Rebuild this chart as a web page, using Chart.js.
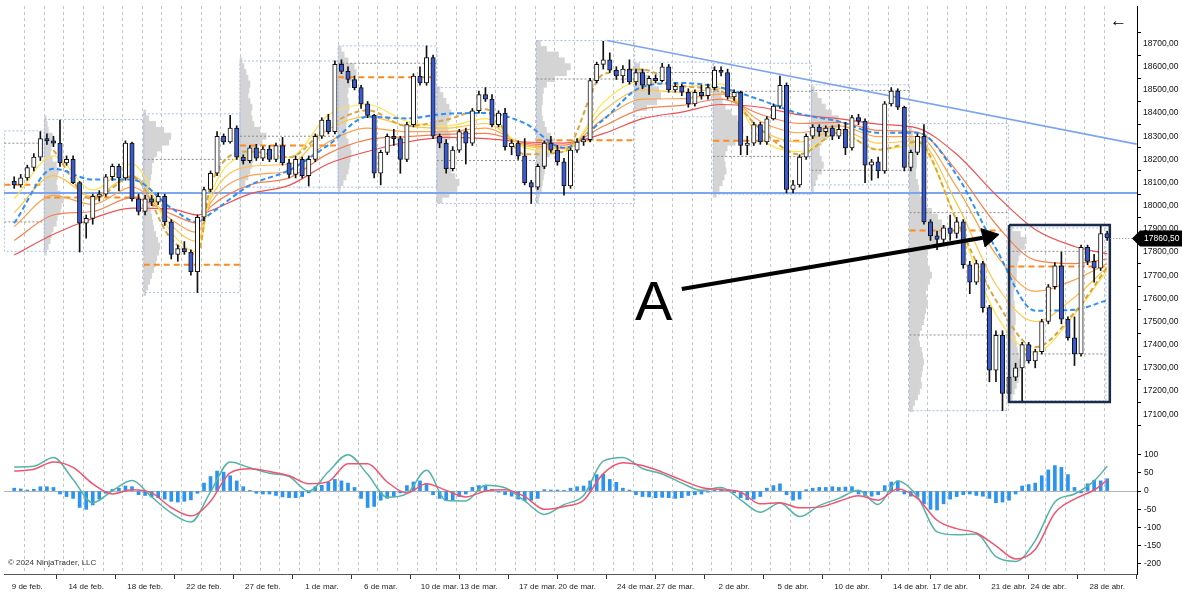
<!DOCTYPE html>
<html lang="es">
<head>
<meta charset="utf-8">
<title>Velas, cinta de medias, perfil de volumen y MACD</title>
<script src="https://cdn.jsdelivr.net/npm/chart.js@4.4.1/dist/chart.umd.min.js"></script>
<style>
  html, body { margin: 0; padding: 0; background: #fff; }
  #wrap { position: relative; width: 1182px; height: 593px; overflow: hidden; font-family: "Liberation Sans", Arial, sans-serif; }
  #mainCanvas { position: absolute; left: 0; top: 0; }
  #macdCanvas { position: absolute; left: 0; top: 442px; }
  .note { position: absolute; color: #000; white-space: nowrap; line-height: 1; }
  #copy { left: 8px; top: 559px; font-size: 8px; color: #333; }
  #back { left: 1110px; top: 12px; font-size: 17px; }
  #letterA { left: 635px; top: 273px; font-size: 56px; }
</style>
</head>
<body>
<div id="wrap">
  <canvas id="mainCanvas" width="1182" height="442"></canvas>
  <canvas id="macdCanvas" width="1182" height="151"></canvas>
  <div class="note" id="letterA">A</div>
  <div class="note" id="back">←</div>
  <div class="note" id="copy">© 2024 NinjaTrader, LLC</div>
</div>
<script>
// ---------- DATA ----------
// One candle per slot, three slots per trading session.
const opens = [18105,18090,18120,18165,18210,18290, 18280,18270,18185,18200,18100,17925,
  17945,18040,18050,18125,18170,18120, 18270,18030,17975,18030,18015,18040,
  17930,17790,17815,17800,17715,17950, 18070,18140,18300,18275,18335,18210,
  18195,18250,18205,18245,18200,18260, 18185,18135,18200,18130,18200,18300,
  18370,18320,18610,18580,18545,18510, 18440,18390,18140,18230,18300,18290,
  18200,18350,18560,18530,18640,18300, 18270,18160,18240,18320,18270,18410,
  18480,18460,18350,18400,18255,18270, 18215,18100,18080,18170,18270,18240,
  18190,18085,18240,18275,18285,18540, 18610,18630,18585,18560,18590,18535,
  18575,18520,18550,18540,18600,18500, 18515,18490,18440,18490,18475,18510,
  18585,18575,18470,18490,18260,18270, 18350,18275,18375,18430,18520,18070,
  18090,18210,18300,18340,18320,18335, 18300,18330,18250,18380,18365,18175,
  18190,18150,18440,18495,18425,18165, 18230,18300,17930,17870,17855,17905,
  17880,17930,17745,17670,17750,17560, 17290,17440,17190,17260,17300,17400,
  17330,17370,17500,17650,17740,17510, 17430,17360,17820,17760,17730,17880];
const highs = [18125,18135,18175,18225,18320,18310, 18300,18370,18215,18215,18105,17960,
  18050,18065,18135,18180,18180,18280, 18275,18050,18045,18045,18055,18050,
  17940,17830,17845,17810,17960,18080, 18150,18320,18310,18390,18345,18220,
  18260,18265,18255,18260,18270,18295, 18200,18215,18210,18215,18310,18380,
  18395,18625,18630,18600,18560,18520, 18450,18395,18240,18310,18330,18300,
  18360,18570,18600,18690,18650,18310, 18285,18255,18330,18335,18420,18495,
  18510,18480,18410,18420,18285,18280, 18290,18110,18180,18280,18300,18260,
  18205,18250,18290,18300,18550,18620, 18710,18660,18600,18605,18630,18590,
  18590,18560,18565,18615,18610,18530, 18525,18505,18500,18520,18525,18600,
  18600,18590,18500,18495,18300,18360, 18360,18385,18440,18560,18530,18110,
  18220,18310,18350,18350,18345,18345, 18350,18360,18390,18395,18375,18200,
  18210,18450,18510,18505,18430,18240, 18310,18350,17940,17890,17915,17960,
  17950,17940,17760,17765,17760,17570, 17460,17460,17290,17320,17410,17410,
  17380,17510,17660,17755,17800,17520, 17520,17830,17830,17790,17915,17890];
const lows = [18075,18080,18110,18150,18195,18265, 18255,18170,18175,18095,17800,17860,
  17920,18020,18040,18110,18065,18110, 18020,17960,17960,18000,18005,17915,
  17770,17760,17790,17700,17625,17935, 18060,18130,18265,18270,18200,18180,
  18185,18195,18195,18190,18190,18175, 18120,18120,18120,18085,18190,18290,
  18310,18310,18570,18530,18500,18420, 18380,18120,18090,18220,18260,18140,
  18190,18340,18520,18520,18290,18250, 18140,18150,18230,18180,18260,18400,
  18450,18340,18340,18240,18220,18200, 18090,18010,18070,18160,18230,18175,
  18045,18075,18230,18260,18275,18530, 18590,18575,18545,18530,18525,18520,
  18505,18480,18530,18535,18490,18490, 18475,18425,18430,18460,18460,18500,
  18560,18460,18455,18220,18220,18260, 18265,18265,18370,18420,18055,18055,
  18080,18200,18290,18300,18300,18285, 18290,18220,18240,18350,18100,18110,
  18120,18140,18430,18415,18150,18150, 18220,17920,17850,17810,17840,17850,
  17860,17730,17620,17660,17540,17240, 17240,17115,17160,17245,17155,17320,
  17300,17360,17490,17640,17490,17420, 17310,17350,17745,17670,17720,17850];
const closes = [18090,18120,18165,18210,18290,18280, 18270,18185,18200,18100,17925,17945,
  18040,18050,18125,18170,18120,18270, 18030,17975,18030,18015,18040,17930,
  17790,17815,17800,17715,17950,18070, 18140,18300,18275,18335,18210,18195,
  18250,18205,18245,18200,18260,18185, 18135,18200,18130,18200,18300,18370,
  18320,18610,18580,18545,18510,18440, 18390,18140,18230,18300,18290,18200,
  18350,18560,18530,18640,18300,18270, 18160,18240,18320,18270,18410,18480,
  18460,18350,18400,18255,18270,18215, 18100,18080,18170,18270,18240,18190,
  18085,18240,18275,18285,18540,18610, 18630,18585,18560,18590,18535,18575,
  18520,18550,18540,18600,18500,18515, 18490,18440,18490,18475,18510,18585,
  18575,18470,18490,18260,18270,18350, 18275,18375,18430,18520,18070,18090,
  18210,18300,18340,18320,18335,18300, 18330,18250,18380,18365,18175,18190,
  18150,18440,18495,18425,18165,18230, 18300,17930,17870,17855,17905,17880,
  17930,17745,17670,17750,17560,17290, 17440,17190,17260,17300,17400,17330,
  17370,17500,17650,17740,17510,17430, 17360,17820,17760,17730,17880,17860.5];

// Moving-average ribbon, sampled at these candle slots (fast yellow -> slow red)
const ribbonX = [0,6,12,18,24,28,30,36,42,48,54,60,66,72,78,84,90,96,102,108,114,120,126,132,138,144,150,156,162,167];
const ema1 = [18030,18215,18067,18181,17885,17800,18047,18214,18209,18392,18437,18364,18344,18376,18250,18234,18445,18539,18514,18526,18291,18234,18315,18242,18262,17937,17531,17368,17531,17721];
const ema2 = [17970,18130,18040,18130,17915,17845,18030,18170,18180,18330,18385,18345,18335,18355,18258,18245,18410,18500,18490,18505,18330,18275,18330,18270,18280,18010,17660,17500,17605,17735];
const ema3 = [17910,18045,18005,18080,17940,17885,18012,18130,18150,18275,18335,18320,18320,18335,18265,18252,18375,18460,18462,18482,18365,18315,18345,18298,18298,18080,17790,17630,17680,17750];
const ema4 = [17850,17960,17975,18035,17965,17925,17995,18090,18120,18225,18285,18298,18308,18312,18270,18262,18343,18418,18433,18460,18395,18355,18360,18325,18317,18150,17920,17765,17750,17770];
const ema5 = [17787,17877,17945,17990,17986,17960,17978,18051,18088,18181,18234,18275,18295,18290,18275,18270,18311,18376,18404,18437,18425,18392,18376,18352,18335,18222,18047,17897,17824,17792];
const midBlue = [17925,18160,18113,18113,17990,17930,17966,18088,18153,18262,18384,18377,18397,18400,18356,18250,18371,18514,18530,18510,18457,18397,18364,18315,18315,18132,17815,17547,17551,17592];
const midGold = [null,18240,18027,18125,17856,17790,18088,18234,18209,18344,18412,18344,18371,18417,18222,18234,18567,18588,18518,18494,18331,18222,18315,18242,18275,17937,17592,17389,17539,17734];

// Weekly volume profiles: left slot, top price level (25-pt rows), row volumes
const profStart = [4.6, 19.8, 34.5, 49.5, 64.6, 79.8, 94.8, 106.8, 121.8, 136.8, 151.9];
const profTop = [18375, 18400, 18625, 18675, 18500, 18700, 18600, 18525, 18500, 18325, 17900];
const profVols = [
  [2,3,4,8,10,7,6,8,12,14,13,12,13,16,19,17,16,13,12,9,7,6,4,2],
  [2,5,12,20,27,25,18,13,10,8,8,7,6,5,5,5,6,7,8,9,10,12,14,16,15,13,12,10,8,6,4,2],
  [2,4,6,8,10,9,8,10,12,11,12,14,20,26,22,16,14,13,12,10,8,5,2],
  [3,6,10,16,18,14,12,10,9,10,11,10,9,8,7,8,10,12,13,12,11,10,8,5,2],
  [3,6,9,12,14,12,10,11,13,10,8,7,8,10,14,18,22,20,12,5],
  [4,10,22,28,34,30,18,10,7,6,6,5,5,6,8,10,14,17,16,13,10,9,8,7,6,5,3,2],
  [5,10,14,18,24,26,22,12],
  [3,6,8,9,12,18,24,28,30,28,22,14,12,11,12,13,11,9,6,3],
  [3,6,10,14,20,27,28,24,16,10,8,8,10,12,10,6,4,2],
  [2,3,4,5,6,7,7,6,6,8,9,10,12,16,22,28,32,36,34,26,20,18,17,18,20,22,20,18,16,17,18,16,15,14,12,10,9,10,12,13,14,13,12,11,12,10,8,5,3],
  [4,12,18,16,12,10,9,8,8,7,6,5,5,6,6,7,7,6,6,7,8,9,10,11,12,11,10,8,6,4]
];
// Profile boxes (weekly range)
const boxStart = [-1.5, 4.6, 19.8, 34.5, 49.5, 64.6, 79.8, 94.8, 106.8, 121.8, 136.8, 151.9];
const boxEnd   = [4.6, 19.8, 34.5, 49.5, 64.6, 79.8, 94.8, 106.8, 121.8, 136.8, 151.9, 166.8];
const boxHigh  = [18323, 18372, 18397, 18625, 18690, 18510, 18713, 18620, 18615, 18522, 18355, 17904];
const boxLow   = [17803, 17803, 17625, 18080, 18080, 18010, 18010, 18384, 18050, 18090, 17115, 17157];
// Points of control (orange) and value-area edges (grey)
const pocStart = [-1.5, 4.6, 19.8, 34.5, 49.5, 79.8, 106.8, 136.8, 151.9];
const pocEnd   = [4.6, 19.8, 34.5, 49.5, 64.6, 94.8, 120.4, 150.8, 166.8];
const pocPrice = [18090, 18035, 17745, 18260, 18555, 18283, 18280, 17893, 17738];
const vaStart = [-1.5, -1.5, 19.8, 34.5, 49.5, 64.6, 79.8, 94.8, 106.8, 106.8, 121.8, 121.8, 136.8, 136.8, 151.9, 151.9];
const vaEnd   = [4.6, 4.6, 34.5, 49.5, 64.6, 79.8, 94.8, 106.8, 121.8, 121.8, 136.8, 136.8, 151.9, 151.9, 166.8, 166.8];
const vaPrice = [18270, 17930, 18200, 18300, 18615, 18195, 18547, 18575, 18494, 18213, 18498, 18153, 17970, 17442, 17803, 17360];

// Drawn objects
const supportLevel = 18055;
const trendFrom = [90.6, 18713];
const trendTo = [171.5, 18266];
const arrowShaft = [[102.0, 17640], [148.0, 17862]];
const arrowHead = [[150.47, 17876], [147.72, 17901], [148.33, 17822]];
const zoneBox = [152.0, 167.4, 17917, 17153];

// MACD panel
const macdX = [0,3,6,9,12,15,18,21,24,27,30,33,36,39,42,45,48,51,54,57,60,63,66,69,72,75,78,81,84,87,90,93,96,99,102,105,108,111,114,117,120,123,126,129,132,135,138,141,144,147,150,153,156,159,162,165,167];
const macdLine = [66,68,92,32,-32,1,29,-16,-60,-85,-2,80,64,49,40,0,53,100,46,-17,-7,57,-26,-27,16,9,-27,-64,-37,-12,82,92,62,47,22,2,10,-24,-58,-33,-70,-40,-20,2,-37,28,-15,-112,-120,-118,-180,-193,-136,-30,-8,28,68];
const signalLine = [55,60,80,65,20,-8,4,-5,-45,-68,-28,50,61,54,42,20,26,75,75,25,-5,20,2,-16,0,4,-15,-50,-42,-25,48,78,70,52,30,10,4,-3,-35,-32,-46,-44,-28,-13,-25,6,-20,-80,-103,-115,-150,-186,-160,-60,-22,3,30];
const histogram = [8,6,3,5,12,12, 10,-8,-15,-20,-45,-50, -38,-22,-6,5,8,14, 12,-10,-12,-16,-18,-22,
  -28,-30,-28,-24,-6,22, 40,55,52,42,28,12, 2,-6,-8,-8,-12,-16, -18,-18,-15,-5,12,16,
  24,32,28,22,10,-20, -45,-42,-25,-20,-15,-5, 15,25,28,20,-10,-20, -26,-25,-15,-8,10,15,
  14,5,-3,-10,-14,-22, -26,-25,-20,4,3,3, 2,8,12,14,28,45, 46,32,24,8,3,-10,
  -15,-16,-18,-17,-18,-20, -18,-12,-10,-8,-3,3, 6,5,-5,-18,-24,-22, -15,8,15,20,-10,-25,
  -22,4,8,10,10,12, 10,11,12,-8,-12,-14, -10,15,25,28,-8,-14, -15,-35,-50,-52,-35,-22,
  -15,-10,-8,-12,-14,-20, -32,-30,-25,-8,14,18, 22,42,58,70,65,45, 10,-5,20,30,28,34];

// Axes
const priceTicks = [17100,17200,17300,17400,17500,17600,17700,17800,17900,18000,18100,18200,18300,18400,18500,18600,18700];
const macdTicks = [100, 50, 0, -50, -100, -150, -200];
const dateTicks = [2,11,20,29,38,47,56,65,71,80,86,95,101,110,119,128,137,143,152,158,167];
const dateLabels = ['9 de feb.','14 de feb.','18 de feb.','22 de feb.','27 de feb.','1 de mar.','6 de mar.',
  '10 de mar.','13 de mar.','17 de mar.','20 de mar.','24 de mar.','27 de mar.','2 de abr.','5 de abr.',
  '10 de abr.','14 de abr.','17 de abr.','21 de abr.','24 de abr.','28 de abr.'];

// ---------- LAYOUT ----------
const X_MIN = -1.556, X_MAX = 171.55;          // slot range across the plot
const FONT = { family: '"Liberation Sans", Arial, sans-serif', size: 8 };
const UP = '#ffffff', DOWN = '#3a5bd0';
const PROFILE_SCALE = 1 / 6.545;                // volume units -> slots

const fmtPrice = v => v.toFixed(2).replace('.', ',');
const pts = (xs, ys) => xs.map((x, j) => ({ x, y: ys[j] }));
const seg = (x0, x1, y, color, width, dash, order) => ({
  type: 'line', data: [{ x: x0, y }, { x: x1, y }], borderColor: color, borderWidth: width,
  borderDash: dash, pointRadius: 0, order
});

// ---------- PLUGINS ----------
// dashed vertical line at every session boundary
const sessionGrid = {
  id: 'sessionGrid',
  beforeDatasetsDraw(chart) {
    const { ctx, chartArea: a, scales: { x } } = chart;
    ctx.save();
    ctx.strokeStyle = '#c4c4c4';
    ctx.lineWidth = 1;
    ctx.setLineDash([3, 3]);
    const sessions = Math.floor((closes.length - 2) / 3);
    for (let k = 0; k <= sessions; k++) {
      const px = Math.round(x.getPixelForValue(1.5 + 3 * k)) + 0.5;
      ctx.beginPath();
      ctx.moveTo(px, a.top);
      ctx.lineTo(px, a.bottom);
      ctx.stroke();
    }
    ctx.restore();
  }
};

// last-price marker on the price axis
const lastPriceTag = {
  id: 'lastPriceTag',
  afterDraw(chart) {
    const { ctx, chartArea: a, scales: { x, y } } = chart;
    const last = closes.length - 1;
    const py = Math.round(y.getPixelForValue(closes[last])) + 0.5;
    ctx.save();
    ctx.strokeStyle = '#8a8a8a';
    ctx.setLineDash([1, 2]);
    ctx.beginPath();
    ctx.moveTo(x.getPixelForValue(last) + 3, py);
    ctx.lineTo(a.right, py);
    ctx.stroke();
    ctx.setLineDash([]);
    ctx.fillStyle = '#000';
    ctx.beginPath();
    ctx.moveTo(a.right - 5, py);
    ctx.lineTo(a.right + 3, py - 8);
    ctx.lineTo(chart.width, py - 8);
    ctx.lineTo(chart.width, py + 8);
    ctx.lineTo(a.right + 3, py + 8);
    ctx.closePath();
    ctx.fill();
    ctx.fillStyle = '#fff';
    ctx.font = '8.5px "Liberation Sans", Arial, sans-serif';
    ctx.textBaseline = 'middle';
    ctx.fillText(fmtPrice(closes[last]), a.right + 7, py + 0.5);
    ctx.restore();
  }
};

// ---------- MAIN PANEL ----------
const mainSets = [];

profVols.forEach((vols, p) => {
  mainSets.push({
    type: 'bar', indexAxis: 'y', grouped: false, order: 100,
    data: vols.map((v, k) => ({ y: profTop[p] - 25 * k, x: [profStart[p], profStart[p] + v * PROFILE_SCALE] })),
    backgroundColor: '#d4d4d4', borderWidth: 0, barThickness: 6.4
  });
});

boxStart.forEach((s, b) => {
  mainSets.push({
    type: 'line', order: 90, borderColor: '#a7bcef', borderWidth: 1, borderDash: [2, 2], pointRadius: 0,
    data: [{ x: s, y: boxHigh[b] }, { x: boxEnd[b], y: boxHigh[b] }, { x: boxEnd[b], y: boxLow[b] },
           { x: s, y: boxLow[b] }, { x: s, y: boxHigh[b] }]
  });
});
vaStart.forEach((s, j) => mainSets.push(seg(s, vaEnd[j], vaPrice[j], '#8c8c8c', 1, [2, 2], 88)));
pocStart.forEach((s, j) => mainSets.push(seg(s, pocEnd[j], pocPrice[j], '#ff8a1c', 2, [6, 4], 85)));

mainSets.push(seg(X_MIN, X_MAX, supportLevel, '#7da5f0', 2, [], 80));
mainSets.push({
  type: 'line', order: 80, borderColor: '#7da5f0', borderWidth: 1.6, pointRadius: 0,
  data: [{ x: trendFrom[0], y: trendFrom[1] }, { x: trendTo[0], y: trendTo[1] }]
});

[[ema5, '#ef5050'], [ema4, '#f7804f'], [ema3, '#fda24a'], [ema2, '#ffc448'], [ema1, '#ffe24d']].forEach(([arr, color], j) => {
  mainSets.push({
    type: 'line', order: 70 - j, data: pts(ribbonX, arr), borderColor: color, borderWidth: 1.2,
    pointRadius: 0, cubicInterpolationMode: 'monotone'
  });
});
mainSets.push({
  type: 'line', order: 52, data: pts(ribbonX, midGold), borderColor: '#d9a640', borderWidth: 2,
  borderDash: [5, 3], pointRadius: 0, cubicInterpolationMode: 'monotone'
});
mainSets.push({
  type: 'line', order: 50, data: pts(ribbonX, midBlue), borderColor: '#2f8ff5', borderWidth: 2,
  borderDash: [5, 3], pointRadius: 0, cubicInterpolationMode: 'monotone'
});

// candles: wick then body
mainSets.push({
  type: 'bar', grouped: false, order: 20, barThickness: 1, borderWidth: 0, backgroundColor: '#111',
  data: closes.map((c, i) => ({ x: i, y: [lows[i], highs[i]] }))
});
mainSets.push({
  type: 'bar', grouped: false, order: 10, barThickness: 4.4, borderWidth: 1, borderColor: '#111',
  borderSkipped: false, minBarLength: 1.5,
  backgroundColor: closes.map((c, i) => (c >= opens[i] ? UP : DOWN)),
  data: closes.map((c, i) => ({ x: i, y: [opens[i], c] }))
});

// annotations: zone rectangle and arrow
mainSets.push({
  type: 'line', order: 3, borderColor: '#1b2b4b', borderWidth: 2.5, pointRadius: 0,
  data: [{ x: zoneBox[0], y: zoneBox[2] }, { x: zoneBox[1], y: zoneBox[2] }, { x: zoneBox[1], y: zoneBox[3] },
         { x: zoneBox[0], y: zoneBox[3] }, { x: zoneBox[0], y: zoneBox[2] }]
});
mainSets.push({
  type: 'line', order: 2, borderColor: '#000', borderWidth: 4, pointRadius: 0,
  data: arrowShaft.map(([x, y]) => ({ x, y }))
});
mainSets.push({
  type: 'line', order: 1, borderColor: '#000', borderWidth: 1, backgroundColor: '#000', fill: 'shape', pointRadius: 0,
  data: arrowHead.concat([arrowHead[0]]).map(([x, y]) => ({ x, y }))
});

new Chart(document.getElementById('mainCanvas'), {
  type: 'bar',
  data: { datasets: mainSets },
  options: {
    responsive: false, animation: false, events: [],
    layout: { padding: { left: 4, top: 6, right: 0, bottom: 0 } },
    plugins: { legend: { display: false }, tooltip: { enabled: false } },
    scales: {
      x: { type: 'linear', min: X_MIN, max: X_MAX, offset: false, display: false },
      y: {
        type: 'linear', position: 'right', min: 17035.2, max: 18806.9,
        afterFit(s) { s.width = 45; s.paddingTop = 0; s.paddingBottom = 0; },
        afterBuildTicks(s) { s.ticks = priceTicks.map(v => ({ value: v })); },
        grid: { drawOnChartArea: false, drawTicks: true, tickLength: 4, tickColor: '#000' },
        border: { display: true, color: '#000' },
        ticks: { font: { family: FONT.family, size: 8.5 }, color: '#111', padding: 2, callback: v => fmtPrice(v) }
      }
    }
  },
  plugins: [sessionGrid, lastPriceTag]
});

// ---------- MACD PANEL ----------
new Chart(document.getElementById('macdCanvas'), {
  type: 'bar',
  data: {
    datasets: [
      { type: 'line', order: 1, data: pts(macdX, signalLine), borderColor: '#ee5570', borderWidth: 1.5,
        pointRadius: 0, cubicInterpolationMode: 'monotone' },
      { type: 'line', order: 2, data: pts(macdX, macdLine), borderColor: '#55b3a8', borderWidth: 1.5,
        pointRadius: 0, cubicInterpolationMode: 'monotone' },
      { type: 'bar', order: 3, grouped: false, barThickness: 3, borderWidth: 0, backgroundColor: '#2b93f0',
        data: histogram.map((v, i) => ({ x: i, y: v })) }
    ]
  },
  options: {
    responsive: false, animation: false, events: [],
    layout: { padding: { left: 4, top: 0, right: 0, bottom: 0 } },
    plugins: { legend: { display: false }, tooltip: { enabled: false } },
    scales: {
      x: {
        type: 'linear', min: X_MIN, max: X_MAX, offset: false,
        afterFit(s) { s.height = 19; s.paddingLeft = 0; s.paddingRight = 0; },
        afterBuildTicks(s) { s.ticks = dateTicks.map(v => ({ value: v })); },
        grid: { drawOnChartArea: false, drawTicks: true, tickLength: 5, tickColor: '#333' },
        border: { display: true, color: '#555' },
        ticks: { autoSkip: false, maxRotation: 0, padding: 3, font: FONT, color: '#222',
                 callback: (v, i) => dateLabels[i] }
      },
      y: {
        type: 'linear', position: 'right', min: -227.5, max: 134.7,
        afterFit(s) { s.width = 45; s.paddingTop = 0; s.paddingBottom = 0; },
        afterBuildTicks(s) { s.ticks = macdTicks.map(v => ({ value: v })); },
        grid: { drawTicks: true, tickLength: 4, tickColor: '#000',
                color: c => (c.tick && c.tick.value === 0 ? '#b4b4b4' : 'rgba(0,0,0,0)') },
        border: { display: true, color: '#000' },
        ticks: { font: { family: FONT.family, size: 8.5 }, color: '#111', padding: 3 }
      }
    }
  },
  plugins: [sessionGrid]
});
</script>
</body>
</html>
